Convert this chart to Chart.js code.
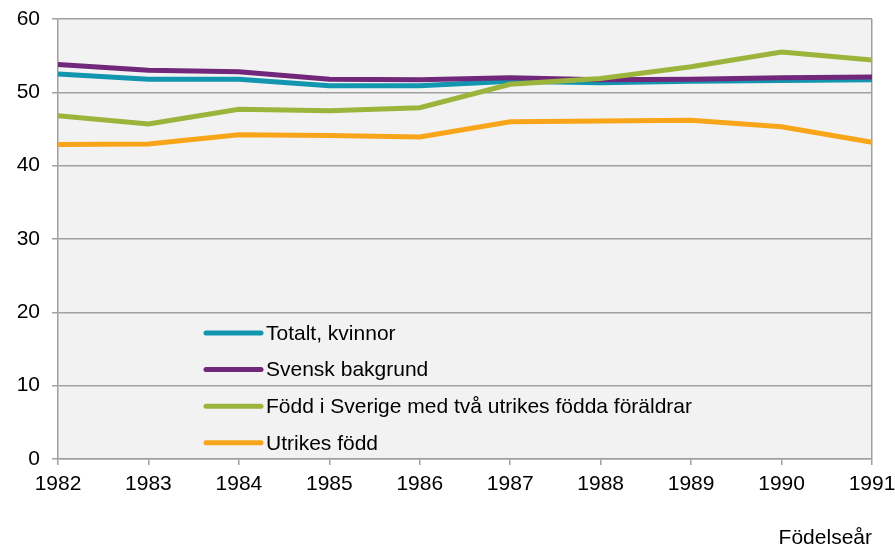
<!DOCTYPE html>
<html>
<head>
<meta charset="utf-8">
<script src="https://cdn.jsdelivr.net/npm/chart.js@4"></script>
<style>
  html, body { margin: 0; padding: 0; background: #fff; }
  #wrap { width: 895px; height: 547px; }
</style>
</head>
<body>
<div id="wrap"><canvas id="lineChart" width="895" height="547"></canvas></div>
<script>
// Data for chart
const years = ['1982', '1983', '1984', '1985', '1986', '1987', '1988', '1989', '1990', '1991'];
const totalt = [52.5, 51.8, 51.8, 50.9, 50.9, 51.5, 51.3, 51.5, 51.6, 51.7];
const svensk = [53.8, 53.0, 52.8, 51.8, 51.7, 52.0, 51.7, 51.8, 52.0, 52.1];
const foddSverige = [46.8, 45.7, 47.7, 47.5, 47.9, 51.1, 51.9, 53.5, 55.5, 54.4];
const utrikes = [42.9, 42.95, 44.2, 44.1, 43.9, 46.0, 46.1, 46.2, 45.3, 43.2];
const yTicks = [0, 10, 20, 30, 40, 50, 60];

const gridGray = '#a0a0a0';
Chart.defaults.font.family = '"Liberation Sans", Arial, sans-serif';
Chart.defaults.font.size = 21;
Chart.defaults.color = '#000';

// grey plot background
const plotBg = {
    id: 'plotBg',
    beforeDraw(chart) {
        const { ctx, chartArea: a } = chart;
        ctx.save();
        ctx.fillStyle = '#f2f2f2';
        ctx.fillRect(a.left, a.top, a.right - a.left, a.bottom - a.top);
        ctx.restore();
    }
};

// legend drawn inside the plot area
const innerLegend = {
    id: 'innerLegend',
    afterDraw(chart) {
        const { ctx, chartArea: a } = chart;
        const x0 = a.left + 148;
        let y = 333;
        ctx.save();
        chart.data.datasets.forEach(ds => {
            ctx.strokeStyle = ds.borderColor;
            ctx.lineWidth = 5;
            ctx.lineCap = 'round';
            ctx.beginPath();
            ctx.moveTo(x0, y);
            ctx.lineTo(x0 + 55, y);
            ctx.stroke();
            ctx.fillStyle = '#000';
            ctx.font = '21px "Liberation Sans", Arial, sans-serif';
            ctx.textBaseline = 'middle';
            ctx.textAlign = 'left';
            ctx.fillText(ds.label, x0 + 60, y + 1);
            y += 36.6;
        });
        ctx.restore();
    }
};

const lineCtx = document.getElementById('lineChart').getContext('2d');
const lineChart = new Chart(lineCtx, {
    type: 'line',
    data: {
        labels: years,
        datasets: [
            { label: 'Totalt, kvinnor', data: totalt, borderColor: '#1296b0', order: 4 },
            { label: 'Svensk bakgrund', data: svensk, borderColor: '#71287a', order: 3 },
            { label: 'Född i Sverige med två utrikes födda föräldrar', data: foddSverige, borderColor: '#9cb43c', order: 2 },
            { label: 'Utrikes född', data: utrikes, borderColor: '#f9a51a', order: 1 }
        ].map(d => Object.assign(d, { borderWidth: 5, pointRadius: 0, tension: 0, fill: false }))
    },
    options: {
        responsive: false,
        animation: false,
        layout: { padding: { top: 19, right: 23, left: 0, bottom: 0 } },
        plugins: {
            legend: { display: false },
            tooltip: { enabled: false }
        },
        scales: {
            x: {
                offset: false,
                grid: {
                    color: c => c.index === years.length - 1 ? gridGray : 'transparent',
                    tickColor: gridGray,
                    tickLength: 6,
                    lineWidth: 1.5
                },
                border: { color: gridGray, width: 1.5 },
                ticks: { padding: 7, maxRotation: 0, autoSkip: false },
                title: {
                    display: true,
                    text: 'Födelseår',
                    align: 'end',
                    padding: { top: 0, bottom: -4 }
                },
                afterFit(scale) {
                    scale.height = 88;
                    scale.paddingLeft = 0;
                    scale.paddingRight = 0;
                }
            },
            y: {
                min: 0,
                max: 60,
                afterBuildTicks(scale) { scale.ticks = yTicks.map(v => ({ value: v })); },
                grid: { color: gridGray, tickColor: gridGray, tickLength: 6, lineWidth: 1.5 },
                border: { color: gridGray, width: 1.5 },
                ticks: { padding: 12 },
                afterFit(scale) {
                    scale.width = 58;
                    scale.paddingTop = 0;
                    scale.paddingBottom = 0;
                }
            }
        }
    },
    plugins: [plotBg, innerLegend]
});
</script>
</body>
</html>
